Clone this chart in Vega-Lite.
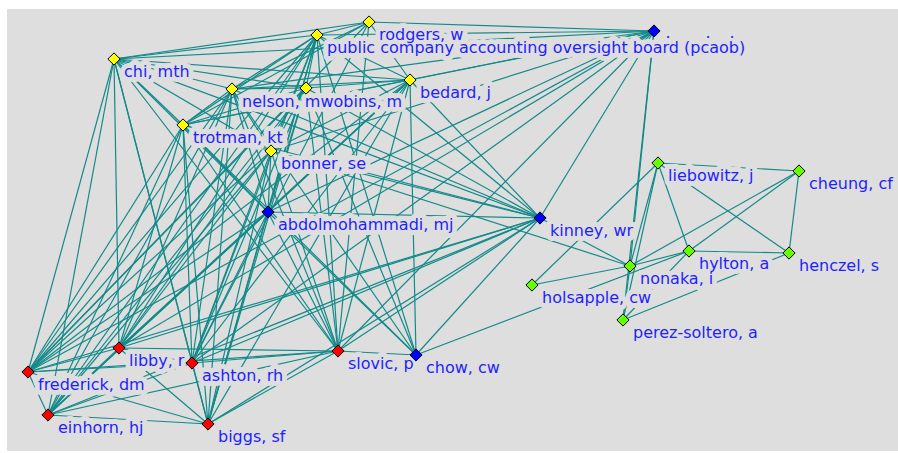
{
  "$schema": "https://vega.github.io/schema/vega-lite/v6.json",
  "autosize": {"type": "fit", "contains": "padding"},
  "width": 898,
  "height": 453,
  "padding": {"left": 7, "top": 9, "right": 0, "bottom": 2},
  "background": "white",
  "config": {"view": {"fill": "#dedede", "stroke": null}},
  "datasets": {
    "nodes": [
      {"id": "rod", "x": 369, "y": 22, "g": "y", "label": "rodgers, w"},
      {"id": "pca", "x": 317, "y": 35, "g": "y", "label": "public company accounting oversight board (pcaob)"},
      {"id": "btp", "x": 654, "y": 31, "g": "b", "label": ""},
      {"id": "chi", "x": 114, "y": 59, "g": "y", "label": "chi, mth"},
      {"id": "nel", "x": 232, "y": 89, "g": "y", "label": "nelson, mwobins, m"},
      {"id": "rob", "x": 306, "y": 88, "g": "y", "label": ""},
      {"id": "bed", "x": 410, "y": 80, "g": "y", "label": "bedard, j"},
      {"id": "tro", "x": 183, "y": 125, "g": "y", "label": "trotman, kt"},
      {"id": "bon", "x": 271, "y": 151, "g": "y", "label": "bonner, se"},
      {"id": "abd", "x": 268, "y": 212, "g": "b", "label": "abdolmohammadi, mj"},
      {"id": "kin", "x": 540, "y": 218, "g": "b", "label": "kinney, wr"},
      {"id": "chw", "x": 416, "y": 355, "g": "b", "label": "chow, cw"},
      {"id": "fre", "x": 28, "y": 372, "g": "r", "label": "frederick, dm"},
      {"id": "lib", "x": 119, "y": 348, "g": "r", "label": "libby, r"},
      {"id": "ash", "x": 192, "y": 363, "g": "r", "label": "ashton, rh"},
      {"id": "slo", "x": 338, "y": 351, "g": "r", "label": "slovic, p"},
      {"id": "ein", "x": 48, "y": 415, "g": "r", "label": "einhorn, hj"},
      {"id": "big", "x": 208, "y": 424, "g": "r", "label": "biggs, sf"},
      {"id": "lie", "x": 658, "y": 163, "g": "g", "label": "liebowitz, j"},
      {"id": "che", "x": 799, "y": 171, "g": "g", "label": "cheung, cf"},
      {"id": "hyl", "x": 689, "y": 251, "g": "g", "label": "hylton, a"},
      {"id": "hen", "x": 789, "y": 253, "g": "g", "label": "henczel, s"},
      {"id": "non", "x": 630, "y": 266, "g": "g", "label": "nonaka, i"},
      {"id": "hol", "x": 532, "y": 285, "g": "g", "label": "holsapple, cw"},
      {"id": "per", "x": 623, "y": 320, "g": "g", "label": "perez-soltero, a"}
    ],
    "dots": [
      {"x": 668, "y": 33, "t": "."},
      {"x": 708, "y": 33, "t": "."},
      {"x": 732, "y": 33, "t": "."}
    ],
    "edges": [
      {"s": "rod", "t": "pca"}, {"s": "rod", "t": "chi"}, {"s": "rod", "t": "btp"}, {"s": "rod", "t": "bed"}, {"s": "rod", "t": "tro"}, {"s": "rod", "t": "nel"},
      {"s": "pca", "t": "chi"}, {"s": "pca", "t": "btp"}, {"s": "pca", "t": "nel"}, {"s": "pca", "t": "tro"}, {"s": "pca", "t": "bed"}, {"s": "pca", "t": "rob"}, {"s": "pca", "t": "bon"},
      {"s": "chi", "t": "nel"}, {"s": "chi", "t": "rob"}, {"s": "chi", "t": "bed"}, {"s": "chi", "t": "tro"}, {"s": "chi", "t": "bon"},
      {"s": "nel", "t": "rob"}, {"s": "nel", "t": "bed"}, {"s": "nel", "t": "tro"}, {"s": "nel", "t": "bon"},
      {"s": "rob", "t": "bed"}, {"s": "rob", "t": "tro"}, {"s": "rob", "t": "bon"},
      {"s": "tro", "t": "bon"}, {"s": "tro", "t": "bed"}, {"s": "bed", "t": "bon"},
      {"s": "btp", "t": "chi"}, {"s": "btp", "t": "bed"}, {"s": "btp", "t": "nel"},
      {"s": "btp", "t": "kin"}, {"s": "btp", "t": "tro"}, {"s": "btp", "t": "bon"}, {"s": "btp", "t": "abd"}, {"s": "btp", "t": "lib"}, {"s": "btp", "t": "fre"}, {"s": "btp", "t": "ash"}, {"s": "btp", "t": "slo"}, {"s": "btp", "t": "non"}, {"s": "btp", "t": "per"},
      {"s": "pca", "t": "kin"}, {"s": "pca", "t": "abd"}, {"s": "pca", "t": "chw"},
      {"s": "kin", "t": "chi"}, {"s": "kin", "t": "nel"}, {"s": "kin", "t": "tro"}, {"s": "kin", "t": "bon"}, {"s": "kin", "t": "bed"}, {"s": "kin", "t": "rob"}, {"s": "kin", "t": "abd"},
      {"s": "kin", "t": "fre"}, {"s": "kin", "t": "ein"}, {"s": "kin", "t": "lib"}, {"s": "kin", "t": "ash"}, {"s": "kin", "t": "slo"}, {"s": "kin", "t": "big"}, {"s": "kin", "t": "non"}, {"s": "kin", "t": "chw"},
      {"s": "abd", "t": "bon"}, {"s": "abd", "t": "nel"}, {"s": "abd", "t": "tro"}, {"s": "abd", "t": "chi"}, {"s": "abd", "t": "bed"}, {"s": "abd", "t": "rob"},
      {"s": "abd", "t": "fre"}, {"s": "abd", "t": "ash"}, {"s": "abd", "t": "slo"}, {"s": "abd", "t": "lib"}, {"s": "abd", "t": "ein"}, {"s": "abd", "t": "big"}, {"s": "abd", "t": "chw"},
      {"s": "chw", "t": "bed"}, {"s": "chw", "t": "tro"}, {"s": "chw", "t": "rob"}, {"s": "chw", "t": "slo"}, {"s": "chw", "t": "hyl"}, {"s": "chw", "t": "nel"},
      {"s": "chi", "t": "fre"}, {"s": "chi", "t": "ein"}, {"s": "chi", "t": "lib"}, {"s": "chi", "t": "ash"}, {"s": "chi", "t": "big"}, {"s": "chi", "t": "slo"},
      {"s": "tro", "t": "fre"}, {"s": "tro", "t": "ein"}, {"s": "tro", "t": "lib"}, {"s": "tro", "t": "ash"}, {"s": "tro", "t": "big"}, {"s": "tro", "t": "slo"},
      {"s": "nel", "t": "fre"}, {"s": "nel", "t": "ash"}, {"s": "nel", "t": "lib"}, {"s": "nel", "t": "ein"}, {"s": "nel", "t": "slo"}, {"s": "nel", "t": "big"},
      {"s": "rob", "t": "fre"}, {"s": "rob", "t": "ash"}, {"s": "rob", "t": "lib"}, {"s": "rob", "t": "ein"}, {"s": "rob", "t": "slo"}, {"s": "rob", "t": "big"},
      {"s": "bed", "t": "fre"}, {"s": "bed", "t": "lib"}, {"s": "bed", "t": "ash"}, {"s": "bed", "t": "ein"}, {"s": "bed", "t": "slo"}, {"s": "bed", "t": "big"},
      {"s": "bon", "t": "fre"}, {"s": "bon", "t": "lib"}, {"s": "bon", "t": "ash"}, {"s": "bon", "t": "ein"}, {"s": "bon", "t": "big"}, {"s": "bon", "t": "slo"},
      {"s": "pca", "t": "fre"}, {"s": "pca", "t": "lib"}, {"s": "pca", "t": "ash"}, {"s": "pca", "t": "slo"}, {"s": "pca", "t": "ein"}, {"s": "pca", "t": "big"},
      {"s": "rod", "t": "slo"}, {"s": "rod", "t": "fre"}, {"s": "rod", "t": "ash"},
      {"s": "fre", "t": "ein"}, {"s": "fre", "t": "lib"}, {"s": "fre", "t": "ash"}, {"s": "fre", "t": "big"}, {"s": "fre", "t": "slo"},
      {"s": "lib", "t": "ash"}, {"s": "lib", "t": "slo"}, {"s": "lib", "t": "big"}, {"s": "lib", "t": "ein"},
      {"s": "ash", "t": "slo"}, {"s": "ash", "t": "big"}, {"s": "ash", "t": "ein"},
      {"s": "ein", "t": "big"}, {"s": "slo", "t": "big"}, {"s": "slo", "t": "ein"},
      {"s": "lie", "t": "non"}, {"s": "lie", "t": "hyl"}, {"s": "lie", "t": "hen"}, {"s": "lie", "t": "che"}, {"s": "lie", "t": "hol"}, {"s": "lie", "t": "per"},
      {"s": "che", "t": "hyl"}, {"s": "che", "t": "hen"}, {"s": "che", "t": "non"},
      {"s": "hyl", "t": "non"}, {"s": "hyl", "t": "hen"}, {"s": "non", "t": "hol"}, {"s": "non", "t": "per"},
      {"s": "per", "t": "hen"}, {"s": "per", "t": "hyl"}, {"s": "bon", "t": "non"}
    ]
  },
  "layer": [
    {
      "data": {"name": "edges"},
      "transform": [
        {"lookup": "s", "from": {"data": {"name": "nodes"}, "key": "id", "fields": ["x", "y"]}, "as": ["x1", "y1"]},
        {"lookup": "t", "from": {"data": {"name": "nodes"}, "key": "id", "fields": ["x", "y"]}, "as": ["x2", "y2"]}
      ],
      "mark": {"type": "rule", "color": "#138a8a", "strokeWidth": 1.2},
      "encoding": {
        "x": {"field": "x1", "type": "quantitative", "scale": {"domain": [7, 898], "nice": false, "zero": false}, "axis": null},
        "y": {"field": "y1", "type": "quantitative", "scale": {"domain": [9, 451], "nice": false, "zero": false, "reverse": true}, "axis": null},
        "x2": {"field": "x2"},
        "y2": {"field": "y2"}
      }
    },
    {
      "data": {"name": "nodes"},
      "mark": {"type": "text", "align": "left", "baseline": "middle", "dx": 10, "dy": 13, "font": "DejaVu Sans", "fontSize": 16, "fill": "#dedede", "stroke": "#dedede", "strokeWidth": 10, "strokeJoin": "round"},
      "encoding": {
        "x": {"field": "x", "type": "quantitative"},
        "y": {"field": "y", "type": "quantitative"},
        "text": {"field": "label"}
      }
    },
    {
      "data": {"name": "nodes"},
      "mark": {"type": "text", "align": "left", "baseline": "middle", "dx": 10, "dy": 13, "font": "DejaVu Sans", "fontSize": 16, "fill": "#1f1fff"},
      "encoding": {
        "x": {"field": "x", "type": "quantitative"},
        "y": {"field": "y", "type": "quantitative"},
        "text": {"field": "label"}
      }
    },
    {
      "data": {"name": "dots"},
      "mark": {"type": "text", "align": "center", "baseline": "middle", "font": "DejaVu Sans", "fontSize": 16, "fill": "#1f1fff"},
      "encoding": {
        "x": {"field": "x", "type": "quantitative"},
        "y": {"field": "y", "type": "quantitative"},
        "text": {"field": "t"}
      }
    },
    {
      "data": {"name": "nodes"},
      "mark": {"type": "point", "shape": "diamond", "size": 150, "filled": true, "opacity": 1, "stroke": "black", "strokeWidth": 1},
      "encoding": {
        "x": {"field": "x", "type": "quantitative"},
        "y": {"field": "y", "type": "quantitative"},
        "color": {"field": "g", "type": "nominal", "scale": {"domain": ["y", "b", "r", "g"], "range": ["#ffff00", "#0000ff", "#ff0000", "#66ff00"]}, "legend": null}
      }
    }
  ]
}
